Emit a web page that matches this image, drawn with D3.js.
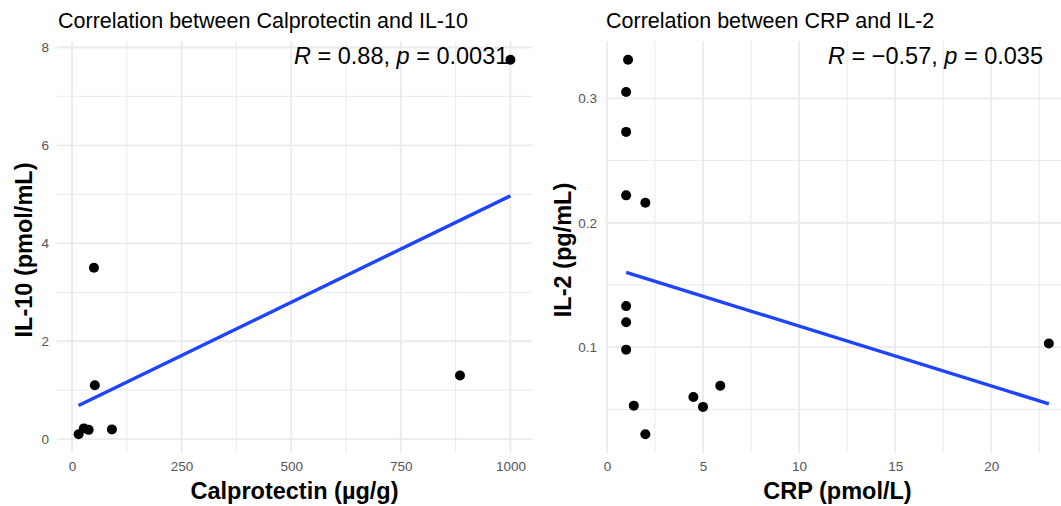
<!DOCTYPE html>
<html>
<head>
<meta charset="utf-8">
<script src="https://cdn.jsdelivr.net/npm/d3@7"></script>
<style>
  body { margin: 0; background: #fff; }
  svg text { font-family: "Liberation Sans", Arial, Helvetica, sans-serif; }
</style>
</head>
<body>
<div id="chart"></div>
<script>
/* DATA */
// left panel: calprotectin vs IL-10
const calprotectin = [15, 27, 38, 50, 52, 91, 885, 1000];
const il10 = [0.1, 0.22, 0.19, 3.5, 1.1, 0.2, 1.3, 7.75];
const calproTicks = [0, 250, 500, 750, 1000];
const calproMinor = [125, 375, 625, 875];
const il10Ticks = [0, 2, 4, 6, 8];
const il10Minor = [1, 3, 5, 7];

// right panel: CRP vs IL-2
const crp = [1.1, 1, 1, 1, 2, 1, 1, 1, 1.4, 2, 4.5, 5, 5.9, 23];
const il2 = [0.331, 0.305, 0.273, 0.222, 0.216, 0.133, 0.12, 0.098, 0.053, 0.030, 0.06, 0.052, 0.069, 0.103];
const crpTicks = [0, 5, 10, 15, 20];
const crpMinor = [2.5, 7.5, 12.5, 17.5, 22.5];
const il2Ticks = [0.1, 0.2, 0.3];
const il2Minor = [0.05, 0.15, 0.25];

const titles = ["Correlation between Calprotectin and IL-10", "Correlation between CRP and IL-2"];
const xTitles = ["Calprotectin (µg/g)", "CRP (pmol/L)"];
const yTitles = ["IL-10 (pmol/mL)", "IL-2 (pg/mL)"];
const corLabels = [["0.88", "0.0031"], ["\u22120.57", "0.035"]];

/* LAYOUT */
const width = 1061, height = 506;
const panelTop = 41, panelBottom = 453;

const svg = d3.select("#chart").append("svg")
  .attr("width", width)
  .attr("height", height);

// ggplot style 5% expansion
function expand(vals) {
  const [lo, hi] = d3.extent(vals);
  const pad = (hi - lo) * 0.05;
  return [lo - pad, hi + pad];
}

function lm(xs, ys) {
  const mx = d3.mean(xs), my = d3.mean(ys);
  const sxy = d3.sum(xs, (x, i) => (x - mx) * (ys[i] - my));
  const sxx = d3.sum(xs, x => (x - mx) * (x - mx));
  const b = sxy / sxx;
  return x => my + b * (x - mx);
}

function drawPanel(p) {
  const g = svg.append("g");
  const xScale = d3.scaleLinear().domain(expand(p.xs)).range([p.left, p.right]);
  const yScale = d3.scaleLinear().domain(expand(p.ys)).range([panelBottom, panelTop]);

  // grid
  g.selectAll(".vminor").data(p.xMinor).join("line")
    .attr("x1", d => xScale(d)).attr("x2", d => xScale(d))
    .attr("y1", panelTop).attr("y2", panelBottom)
    .attr("stroke", "#ededed").attr("stroke-width", 1.2);
  g.selectAll(".hminor").data(p.yMinor).join("line")
    .attr("y1", d => yScale(d)).attr("y2", d => yScale(d))
    .attr("x1", p.left).attr("x2", p.right)
    .attr("stroke", "#ededed").attr("stroke-width", 1.2);
  g.selectAll(".vmajor").data(p.xTicks).join("line")
    .attr("x1", d => xScale(d)).attr("x2", d => xScale(d))
    .attr("y1", panelTop).attr("y2", panelBottom)
    .attr("stroke", "#ebebeb").attr("stroke-width", 1.8);
  g.selectAll(".hmajor").data(p.yTicks).join("line")
    .attr("y1", d => yScale(d)).attr("y2", d => yScale(d))
    .attr("x1", p.left).attr("x2", p.right)
    .attr("stroke", "#ebebeb").attr("stroke-width", 1.8);

  // axes (labels only)
  const xAxis = g.append("g")
    .attr("transform", `translate(0, ${panelBottom + 8})`)
    .call(d3.axisBottom(xScale).tickValues(p.xTicks).tickSize(0).tickPadding(0).tickFormat(d3.format("")));
  const yAxis = g.append("g")
    .attr("transform", `translate(${p.left - 8}, 0)`)
    .call(d3.axisLeft(yScale).tickValues(p.yTicks).tickSize(0).tickPadding(0).tickFormat(d3.format("")));
  [xAxis, yAxis].forEach(a => {
    a.select(".domain").remove();
    a.selectAll("text")
      .attr("fill", "#555555")
      .attr("font-size", 13.5)
      .style("font-family", '"Liberation Sans", Arial, sans-serif');
  });

  // regression line
  const fit = lm(p.xs, p.ys);
  const [xmin, xmax] = d3.extent(p.xs);
  g.append("line")
    .attr("x1", xScale(xmin)).attr("y1", yScale(fit(xmin)))
    .attr("x2", xScale(xmax)).attr("y2", yScale(fit(xmax)))
    .attr("stroke", "#1f44ff")
    .attr("stroke-width", 3.4);

  // points
  g.selectAll("circle").data(p.xs).join("circle")
    .attr("cx", d => xScale(d))
    .attr("cy", (d, i) => yScale(p.ys[i]))
    .attr("r", 5)
    .attr("fill", "black");

  // correlation label
  const lab = g.append("text")
    .attr("x", p.labelX)
    .attr("y", panelTop + 23)
    .attr("font-size", 23.5)
    .attr("fill", "black");
  lab.append("tspan").attr("font-style", "italic").text("R");
  lab.append("tspan").text(` = ${p.cor[0]}, `);
  lab.append("tspan").attr("font-style", "italic").text("p");
  lab.append("tspan").text(` = ${p.cor[1]}`);

  // titles
  g.append("text")
    .attr("x", p.left + 1)
    .attr("y", 28)
    .attr("font-size", 21.5)
    .attr("fill", "black")
    .text(p.title);

  g.append("text")
    .attr("x", (p.left + p.right) / 2)
    .attr("y", 499)
    .attr("text-anchor", "middle")
    .attr("font-size", 23.5)
    .attr("font-weight", "bold")
    .text(p.xTitle);

  g.append("text")
    .attr("transform", `translate(${p.yTitleX}, ${(panelTop + panelBottom) / 2 + 3})rotate(-90)`)
    .attr("text-anchor", "middle")
    .attr("font-size", 23.5)
    .attr("font-weight", "bold")
    .text(p.yTitle);
}

drawPanel({
  xs: calprotectin, ys: il10,
  xTicks: calproTicks, xMinor: calproMinor, yTicks: il10Ticks, yMinor: il10Minor,
  left: 57, right: 532, labelX: 294, yTitleX: 32,
  cor: corLabels[0], title: titles[0], xTitle: xTitles[0], yTitle: yTitles[0]
});

drawPanel({
  xs: crp, ys: il2,
  xTicks: crpTicks, xMinor: crpMinor, yTicks: il2Ticks, yMinor: il2Minor,
  left: 605, right: 1070, labelX: 828, yTitleX: 571,
  cor: corLabels[1], title: titles[1], xTitle: xTitles[1], yTitle: yTitles[1]
});
</script>
</body>
</html>
